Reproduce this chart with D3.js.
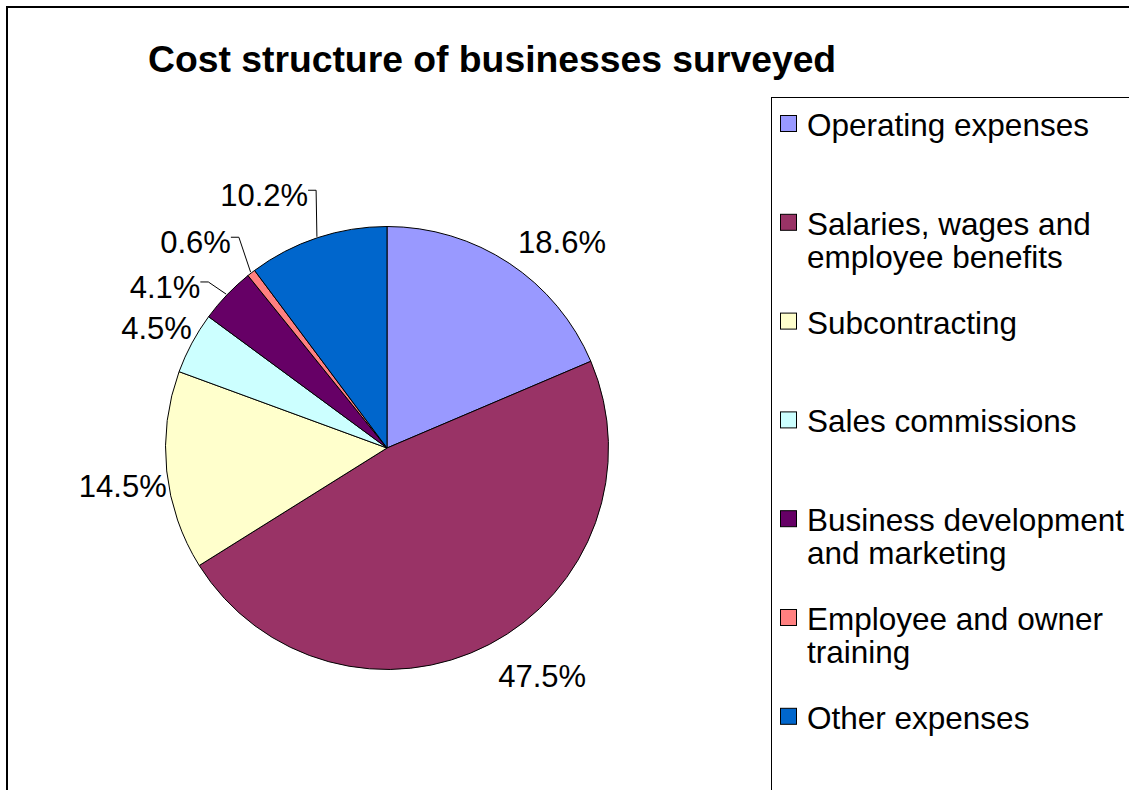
<!DOCTYPE html>
<html>
<head>
<meta charset="utf-8">
<script src="https://cdn.jsdelivr.net/npm/d3@7"></script>
<style>
  html, body { margin: 0; padding: 0; background: #fff; overflow: hidden; }
  svg { display: block; font-family: Arial, "Liberation Sans", sans-serif; }
</style>
</head>
<body>
<svg id="chart" width="1129" height="790"></svg>
<script>
// Cost categories, their shares (%) and fill colours
const categories = [
  "Operating expenses",
  "Salaries, wages and employee benefits",
  "Subcontracting",
  "Sales commissions",
  "Business development and marketing",
  "Employee and owner training",
  "Other expenses"
];
const shares = [18.6, 47.5, 14.5, 4.5, 4.1, 0.6, 10.2];
const colors = ["#9999FF", "#993366", "#FFFFCC", "#CCFFFF", "#660066", "#FF8080", "#0066CC"];

// Legend text broken into lines
const legendLines = [
  ["Operating expenses"],
  ["Salaries, wages and", "employee benefits"],
  ["Subcontracting"],
  ["Sales commissions"],
  ["Business development", "and marketing"],
  ["Employee and owner", "training"],
  ["Other expenses"]
];

// Label layout: distance of each label box from the rim, a small turn (degrees)
// away from the slice bisector, and whether it uses a leader line
const labelGap = [10, 19, 0, 0, 15.5, 25, 29];
const labelTurn = [1, 0, 0, 0, -5.7, -1.5, 0];
const hasLeader = [false, false, false, false, true, true, true];

const svg = d3.select("#chart");
const W = 1129, H = 790;

// Chart frame (runs past the visible area on the right and bottom)
svg.append("rect")
  .attr("x", 7).attr("y", 7)
  .attr("width", W + 40).attr("height", H + 40)
  .attr("fill", "#fff").attr("stroke", "#000").attr("stroke-width", 2);

// Title
svg.append("text")
  .attr("x", 148).attr("y", 72)
  .attr("font-size", 37.3).attr("font-weight", "bold")
  .attr("fill", "#000")
  .text("Cost structure of businesses surveyed");

// Pie
const cx = 387, cy = 448, r = 221.5;
const pie = d3.pie().sort(null).value(d => d)(shares);
const arc = d3.arc().innerRadius(0).outerRadius(r);

const g = svg.append("g").attr("transform", `translate(${cx},${cy})`);
g.selectAll("path.slice")
  .data(pie)
  .join("path")
  .attr("class", "slice")
  .attr("d", arc)
  .attr("fill", (d, i) => colors[i])
  .attr("stroke", "#000")
  .attr("stroke-width", 1)
  .attr("stroke-linejoin", "round");

// Percentage labels, placed with the box corner nearest the centre near the slice bisector
const fmt = d3.format(".1f");
const labelSize = 31;
const ascent = 26, descent = 4;

pie.forEach((d, i) => {
  const mid = (d.startAngle + d.endAngle) / 2;
  const a = mid + labelTurn[i] * Math.PI / 180;
  const s = Math.sin(a), c = Math.cos(a);
  const px = (r + labelGap[i]) * s;
  const py = -(r + labelGap[i]) * c;

  const t = g.append("text")
    .attr("font-size", labelSize)
    .attr("fill", "#000")
    .text(fmt(shares[i]) + "%");
  const w = t.node().getComputedTextLength();

  const left = s >= 0 ? px : px - w;
  const baseline = c >= 0 ? py - descent : py + ascent;
  t.attr("x", left).attr("y", baseline);

  if (hasLeader[i]) {
    const right = left + w;
    const ly = baseline - 16;
    const pts = [
      [right, ly],
      [right + 8, ly],
      [(r + 1) * Math.sin(mid), -(r + 1) * Math.cos(mid)]
    ];
    g.append("path")
      .attr("d", d3.line()(pts))
      .attr("fill", "none")
      .attr("stroke", "#000")
      .attr("stroke-width", 1);
  }
});

// Legend box
const lx = 771, ly0 = 97;
svg.append("rect")
  .attr("x", lx + 0.5).attr("y", ly0 + 0.5)
  .attr("width", W).attr("height", H)
  .attr("fill", "none").attr("stroke", "#000").attr("stroke-width", 1);

const legendSize = 31.5;
const firstBaseline = 136, step = 98.8, lineStep = 33;
const leg = svg.append("g");
categories.forEach((name, i) => {
  const b = firstBaseline + i * step;
  leg.append("rect")
    .attr("x", 780.5).attr("y", b - 20.5)
    .attr("width", 16).attr("height", 16)
    .attr("fill", colors[i]).attr("stroke", "#000").attr("stroke-width", 1);
  const t = leg.append("text")
    .attr("x", 807).attr("y", b)
    .attr("font-size", legendSize)
    .attr("fill", "#000");
  legendLines[i].forEach((line, k) => {
    t.append("tspan").attr("x", 807).attr("y", b + k * lineStep).text(line);
  });
});
</script>
</body>
</html>
